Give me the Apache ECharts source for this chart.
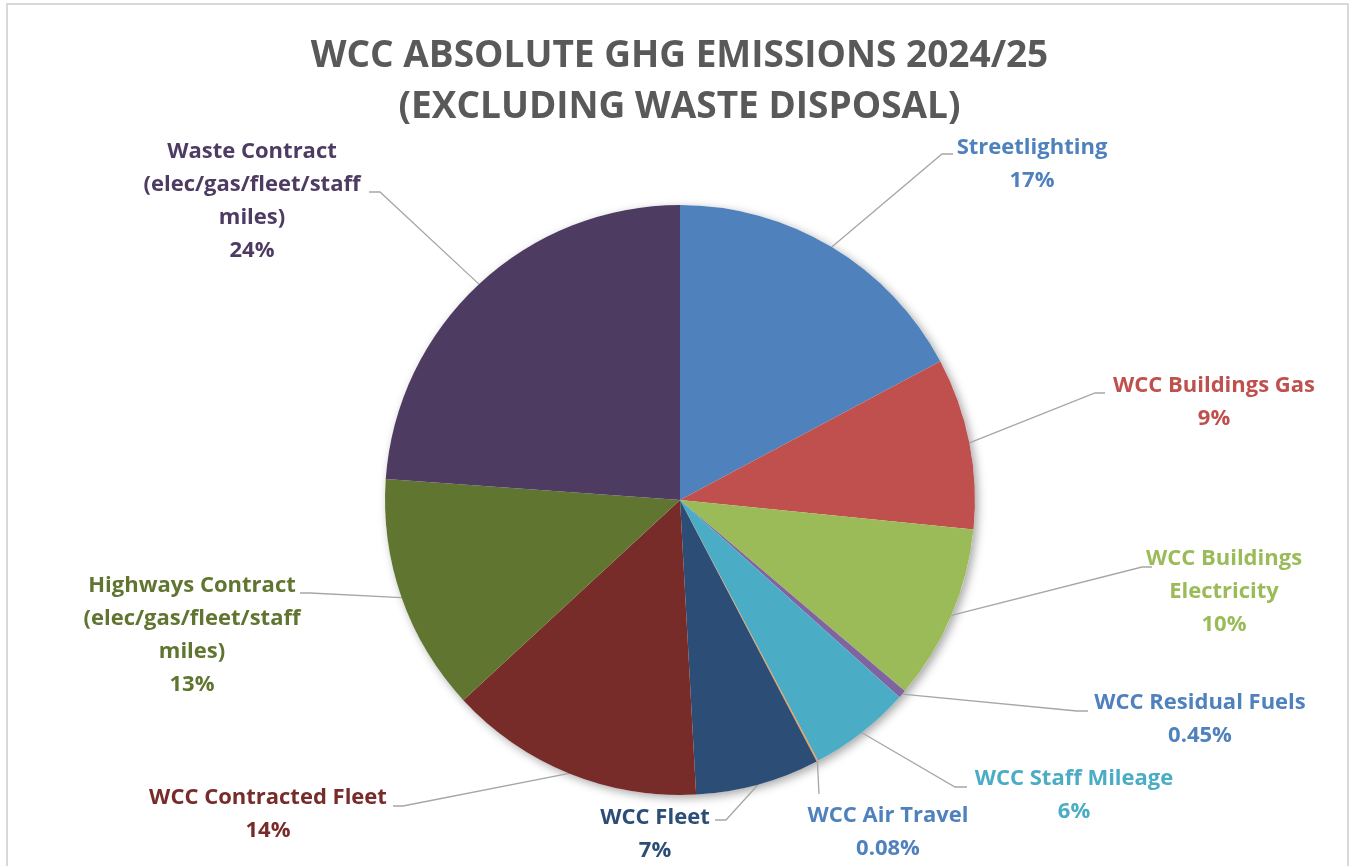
<!DOCTYPE html>
<html>
<head>
<meta charset="utf-8">
<script src="https://cdn.jsdelivr.net/npm/echarts@6/dist/echarts.min.js"></script>
<style>
html,body{margin:0;padding:0;background:#fff;}
#frame{position:absolute;left:6px;top:3px;width:1343px;height:880px;border:2px solid #d9d9d9;box-sizing:border-box;}
#main{position:absolute;left:0;top:0;width:1359px;height:866px;}
</style>
</head>
<body>
<div id="frame"></div>
<div id="main"></div>
<script>
// ---- data ----
const categories = [
  'Streetlighting',
  'WCC Buildings Gas',
  'WCC Buildings\nElectricity',
  'WCC Residual Fuels',
  'WCC Staff Mileage',
  'WCC Air Travel',
  'WCC Fleet',
  'WCC Contracted Fleet',
  'Highways Contract\n(elec/gas/fleet/staff\nmiles)',
  'Waste Contract\n(elec/gas/fleet/staff\nmiles)'
];
const shares = [17.2, 9.4, 9.6, 0.45, 5.6, 0.08, 6.8, 14.0, 13.0, 23.87];

// ---- styles ----
const sliceColors = ['#4F81BD','#C0504D','#9BBB59','#8064A2','#4BACC6','#F79646','#2C4D75','#772C2A','#5F7530','#4D3B62'];
const labelColors = ['#4F81BD','#C0504D','#9BBB59','#4F81BD','#4BACC6','#4F81BD','#2C4D75','#772C2A','#5F7530','#4D3B62'];
// label centre, leader elbow, leader end (layout only)
const labelLayouts = [
  {c:[1032,164], e:[942,154],  t:[953,154]},
  {c:[1214,402], e:[1095,393], t:[1105,393]},
  {c:[1224,592], e:[1142,567], t:[1152,567]},
  {c:[1200,719], e:[1077,711], t:[1088,711]},
  {c:[1074,795], e:[955,787],  t:[967,787]},
  {c:[888,832],  e:[819,794],  t:[819,794]},
  {c:[655,834],  e:[726,820],  t:[715,820]},
  {c:[268,814],  e:[403,806],  t:[393,806]},
  {c:[192,635],  e:[310,593],  t:[300,593]},
  {c:[252,201],  e:[380,192],  t:[369,192]}
];
const CX = 680, CY = 500, R = 295;

const total = shares.reduce((a,b)=>a+b,0);
const midPoints = [];
let acc = 0;
shares.forEach(v=>{
  const mid = (acc + v/2)/total*2*Math.PI;
  midPoints.push([CX + R*Math.sin(mid), CY - R*Math.cos(mid)]);
  acc += v;
});

function pctText(v){
  const p = v/total*100;
  return (p < 1 ? p.toFixed(2) : Math.round(p).toString()) + '%';
}

const chart = echarts.init(document.getElementById('main'));
chart.setOption({
  animation:false,
  title:{
    text:'WCC ABSOLUTE GHG EMISSIONS 2024/25\n(EXCLUDING WASTE DISPOSAL)',
    left:'center', top:26,
    textStyle:{fontFamily:'Open Sans', fontWeight:'bold', fontSize:37, color:'#595959', lineHeight:51}
  },
  series:[
    {
      type:'pie', silent:true, z:1,
      center:[CX,CY], radius:R,
      label:{show:false}, labelLine:{show:false},
      data:[{value:1, itemStyle:{color:'#ffffff', shadowBlur:10, shadowColor:'rgba(0,0,0,0.35)', shadowOffsetX:3, shadowOffsetY:3}}]
    },
    {
      type:'pie', z:2,
      center:[CX,CY], radius:R,
      startAngle:90, clockwise:true,
      avoidLabelOverlap:false,
      itemStyle:{borderWidth:0},
      label:{
        show:true, position:'outside',
        fontFamily:'Open Sans', fontWeight:'bold', fontSize:22, lineHeight:33,
        align:'center',
        formatter:p=>p.name+'\n'+pctText(p.value)
      },
      labelLine:{show:true, lineStyle:{color:'#a6a6a6', width:1.3}},
      labelLayout:function(params){
        const i = params.dataIndex;
        const L = labelLayouts[i];
        return {
          x:L.c[0], y:L.c[1], align:'center', verticalAlign:'middle',
          labelLinePoints:[midPoints[i], L.e, L.t]
        };
      },
      data:categories.map((n,i)=>({
        name:n, value:shares[i],
        itemStyle:{color:sliceColors[i]},
        label:{color:labelColors[i]}
      }))
    }
  ]
});
</script>
</body>
</html>
